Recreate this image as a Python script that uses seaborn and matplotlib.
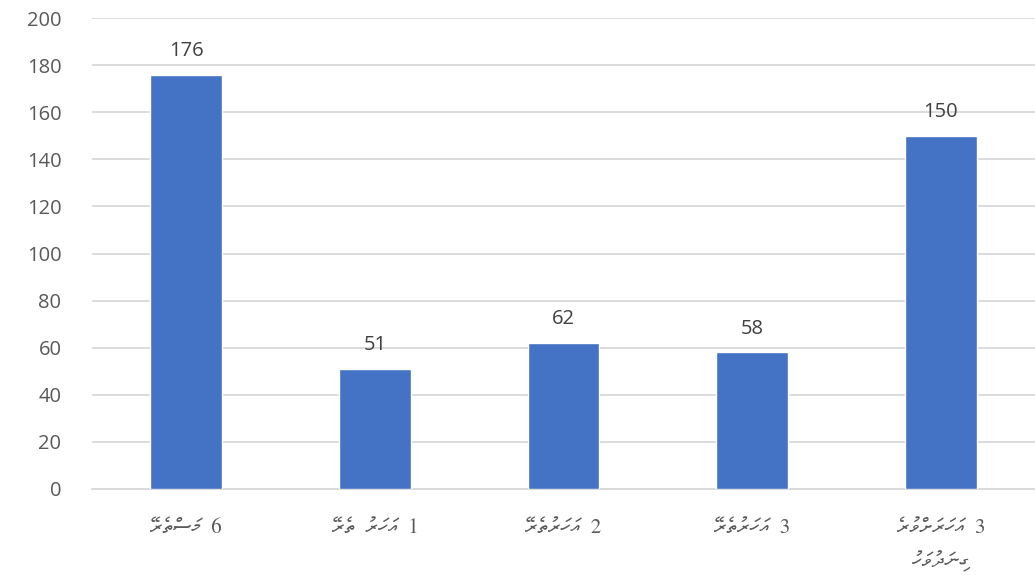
import matplotlib
matplotlib.use("Agg")
import matplotlib.pyplot as plt
import seaborn as sns
import pandas as pd

# ---- data ----
categories = [
    "6 މަސްތެރޭ",
    "1 އަހަރު ތެރޭ",
    "2 އަހަރުތެރޭ",
    "3 އަހަރުތެރޭ",
    "3 އަހަރަށްވުރެ\nގިނަދުވަހު",
]
values = [176, 51, 62, 58, 150]
y_ticks = [0, 20, 40, 60, 80, 100, 120, 140, 160, 180, 200]


def visual(s):
    """Reorder an RTL Thaana line into visual (left-to-right) glyph order.
    Thaana marks precede their base in visual order, as in an RTL shaper."""
    out_lines = []
    for line in s.split("\n"):
        clusters = []
        for ch in line:
            if ch.isdigit() and clusters and clusters[-1].isdigit():
                clusters[-1] += ch
            elif ch == " ":
                clusters.append("\u2002")
            else:
                clusters.append(ch)
        out_lines.append("".join(reversed(clusters)))
    return "\n".join(out_lines)


sns.set_theme(style="white")
plt.rcParams["font.family"] = ["Open Sans", "DejaVu Sans"]

fig = plt.figure(figsize=(10.35, 5.8), dpi=100)
ax = fig.add_axes([92 / 1035, 1 - 489 / 580, 943 / 1035, 471 / 580])

df = pd.DataFrame({"cat": categories, "val": values})
sns.barplot(data=df, x="cat", y="val", color="#4472C4", saturation=1,
            width=0.38, ax=ax, zorder=3)

ax.set_ylim(0, 200)
ax.set_xlim(-0.5, len(categories) - 0.5)
ax.set_yticks(y_ticks)
ax.yaxis.grid(True, color="#D9D9D9", linewidth=1.3, zorder=0)
ax.set_axisbelow(True)
ax.set_xlabel("")
ax.set_ylabel("")

for sp in ["top", "right", "left"]:
    ax.spines[sp].set_visible(False)
ax.spines["bottom"].set_color("#D9D9D9")
ax.spines["bottom"].set_linewidth(1.3)

ax.tick_params(axis="y", length=0, labelsize=14.5, labelcolor="#595959", pad=22)

label_family = ["FreeSerif", "Noto Sans Thaana", "DejaVu Sans"]
ax.set_xticks(range(len(categories)))
ax.set_xticklabels([visual(c) for c in categories], fontsize=15,
                   color="#595959", family=label_family, linespacing=1.8,
                   va="top")
ax.tick_params(axis="x", which="major", length=0, pad=21)
ax.set_xticks([i - 0.5 for i in range(len(categories) + 1)], minor=True)
ax.tick_params(axis="x", which="minor", length=6, width=1.3, color="#D9D9D9",
               direction="out")

for cont in ax.containers:
    ax.bar_label(cont, fmt="%d", padding=10, fontsize=14.5, color="#404040")

fig.savefig("out.png", dpi=100)
